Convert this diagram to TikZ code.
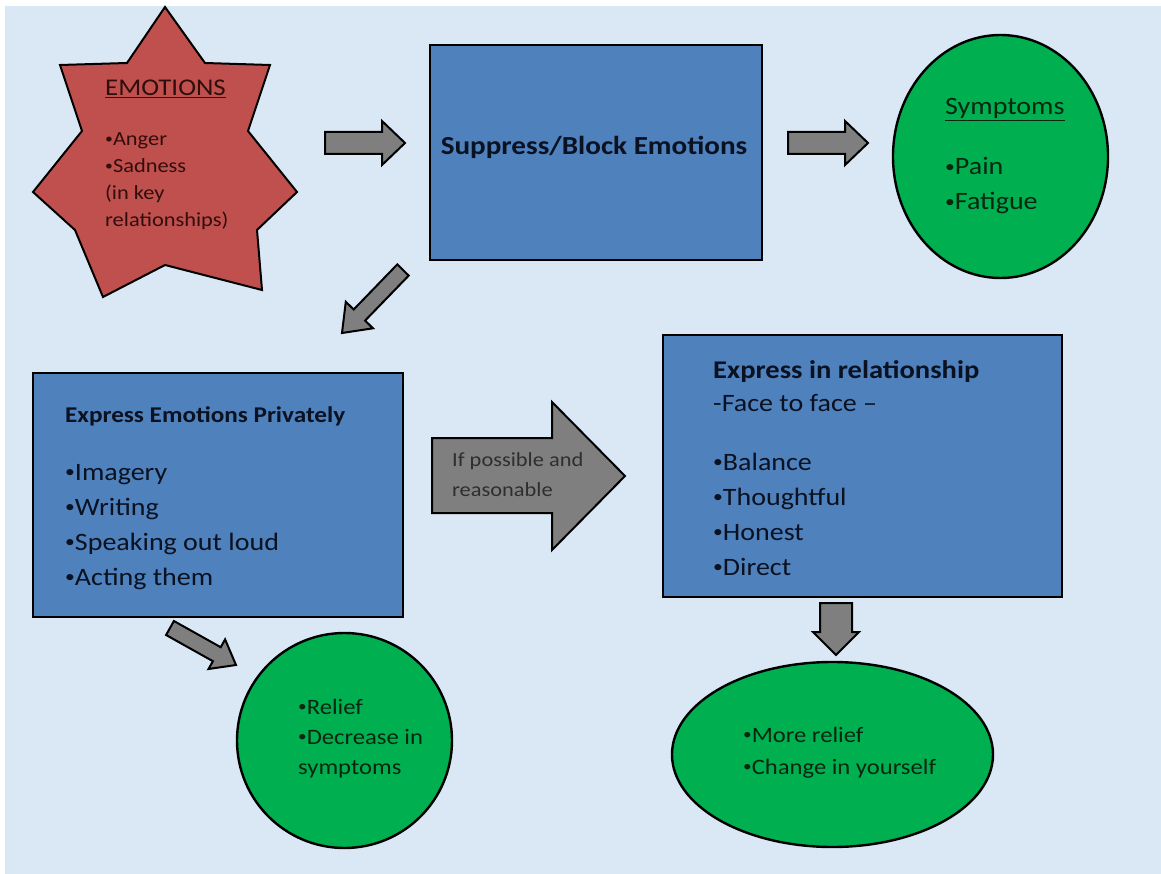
\documentclass[tikz,border=0pt]{standalone}
\usepackage{graphicx}
\usepackage{fontspec}
\setmainfont{Carlito}[FakeStretch=1.12]
\usetikzlibrary{shapes.geometric}
\definecolor{bgblue}{HTML}{DAE7F5}
\definecolor{boxblue}{HTML}{4F81BD}
\definecolor{ellgreen}{HTML}{00B050}
\definecolor{starred}{HTML}{C0504D}
\definecolor{arrowgray}{HTML}{7F7F7F}
\definecolor{boxink}{HTML}{0A1120}
\definecolor{greenink}{HTML}{082610}
\definecolor{redink}{HTML}{300E0C}
\definecolor{grayink}{HTML}{2E2E2E}
\newcommand{\bul}{\raisebox{0.1em}{\scalebox{0.7}{•}}}
\tikzset{
  bluebox/.style={draw=black, line width=2.8pt, fill=boxblue, rectangle, inner sep=0pt},
  greenell/.style={draw=black, line width=2.4pt, fill=ellgreen, ellipse, inner sep=0pt},
  starshape/.style={draw=black, line width=2pt, fill=starred, line join=miter},
  grayarrow/.style={draw=black, line width=2pt, fill=arrowgray, line join=miter},
  txt/.style={anchor=base west, align=left, inner sep=0pt},
  boxtxt/.style={txt, text=boxink},
  greentxt/.style={txt, text=greenink},
  redtxt/.style={txt, text=redink},
  graytxt/.style={txt, text=grayink}
}
\begin{document}
\begin{tikzpicture}[x=1pt,y=-1pt]
\useasboundingbox (0,0) rectangle (1161,874);
\fill[white] (0,0) rectangle (1161,874);
\fill[bgblue] (5,6) rectangle (1161,874);

% star
\draw[starshape] (165,7) -- (205,63) -- (270,65) -- (248,131) -- (297,192) -- (257,230)
  -- (262,290) -- (165,265) -- (103,297) -- (75,230) -- (33,192) -- (82,131)
  -- (60,65) -- (127,63) -- cycle;
\node[redtxt, font=\fontsize{24}{28}\selectfont] (emotitle) at (105,96) {\underline{EMOTIONS}};
% multi-line nodes: base anchor = last line baseline
\node[redtxt, font=\fontsize{20}{27}\selectfont] (emolist) at (105,227)
  {\bul Anger\\\bul Sadness\\(in key\\relationships)};

% boxes
\node[bluebox, minimum width=332pt, minimum height=215pt] (suppress) at (596,152.5) {};
\node[boxtxt, anchor=base, font=\bfseries\fontsize{26}{30}\selectfont] (suppresst) at (594,155) {Suppress/Block Emotions};

\node[bluebox, minimum width=370pt, minimum height=244pt] (private) at (218,495) {};
\node[boxtxt, font=\bfseries\fontsize{22.5}{27}\selectfont] (privatet) at (65,422) {Express Emotions Privately};
\node[boxtxt, font=\fontsize{25}{35}\selectfont] (privatel) at (65,585)
  {\bul Imagery\\\bul Writing\\\bul Speaking out loud\\\bul Acting them};

\node[bluebox, minimum width=399pt, minimum height=262pt] (relation) at (862.5,466) {};
\node[boxtxt, font=\bfseries\fontsize{25.5}{30}\selectfont] (relationt) at (713,378) {Express in relationship};
\node[boxtxt, font=\fontsize{25}{35}\selectfont] (relationf) at (713,411) {-Face to face –};
\node[boxtxt, font=\fontsize{25}{35}\selectfont] (relationl) at (713,575)
  {\bul Balance\\\bul Thoughtful\\\bul Honest\\\bul Direct};

% ellipses
\node[greenell, minimum width=215pt, minimum height=243pt] (symptoms) at (1000.5,156.5) {};
\node[greentxt, font=\fontsize{25}{35}\selectfont] (symptomst) at (945,115) {\underline{Symptoms}};
\node[greentxt, font=\fontsize{25}{35}\selectfont] (symptomsl) at (945,210) {\bul Pain\\\bul Fatigue};

\node[greenell, minimum width=215pt, minimum height=215pt] (relief) at (344.5,740.5) {};
\node[greentxt, font=\fontsize{22}{30}\selectfont] (reliefl) at (298,774)
  {\bul Relief\\\bul Decrease in\\symptoms};

\node[greenell, minimum width=321pt, minimum height=185pt] (more) at (832.5,754.5) {};
\node[greentxt, font=\fontsize{22}{32}\selectfont] (morel) at (743,774)
  {\bul More relief\\\bul Change in yourself};

% block arrows
\draw[grayarrow] (325,132) -- (382,132) -- (382,121) -- (405,143) -- (382,165) -- (382,154) -- (325,154) -- cycle;
\draw[grayarrow] (788,132) -- (845,132) -- (845,121) -- (868,143) -- (845,165) -- (845,154) -- (788,154) -- cycle;
\draw[grayarrow] (397.3,264.4) -- (353.7,309.5) -- (345.8,301.8) -- (342,333) -- (373.0,328.3) -- (365.1,320.6) -- (408.7,275.6) -- cycle;
\draw[grayarrow] (173.9,621.0) -- (220.7,647.2) -- (225.1,639.4) -- (236,665) -- (208.5,669.0) -- (212.9,661.2) -- (166.1,635.0) -- cycle;
\draw[grayarrow] (820,603) -- (852,603) -- (852,632) -- (859,632) -- (836,655) -- (813,632) -- (820,632) -- cycle;
\draw[grayarrow] (432,438) -- (552,438) -- (552,402) -- (625,476) -- (552,550) -- (552,513) -- (432,513) -- cycle;
\node[graytxt, font=\fontsize{20}{30}\selectfont] (arrowt) at (452,496) {If possible and\\reasonable};
\end{tikzpicture}
\end{document}
